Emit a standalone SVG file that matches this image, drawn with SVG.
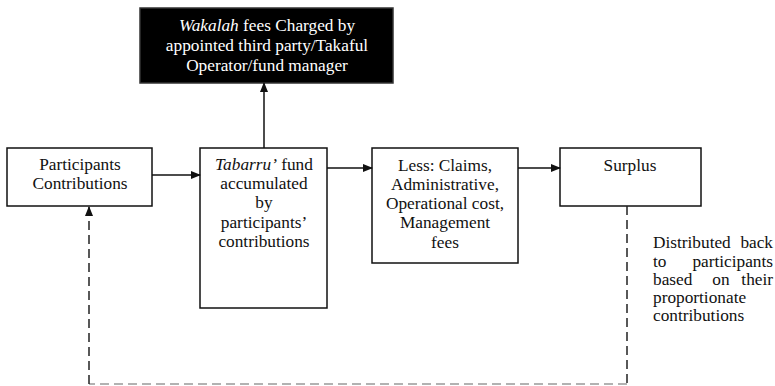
<svg xmlns="http://www.w3.org/2000/svg" width="775" height="386" viewBox="0 0 775 386" font-family="'Liberation Serif', 'DejaVu Serif', 'Times New Roman', serif">
<style>
.box{fill:#fff;stroke:#111;stroke-width:1.5}
.dark{fill:#000;stroke:#333;stroke-width:1.5}
.t{font-family:'Liberation Serif','DejaVu Serif',serif;font-size:17.3px;fill:#111}
.c{text-anchor:middle}
.w{fill:#fff}
.e{text-anchor:end}
.edge{stroke:#111;stroke-width:1.5;fill:none}
.dash{stroke:#222;stroke-width:1.5;fill:none;stroke-dasharray:9 5}
.dashg{stroke:#999;stroke-width:1.5;fill:none;stroke-dasharray:9 5}
</style>
<defs>
<marker id="ah" markerWidth="10" markerHeight="8" refX="9" refY="4" orient="auto" markerUnits="userSpaceOnUse">
<path d="M0,0 L10,4 L0,8 Z" fill="#111"/>
</marker>
</defs>
<g id="wakalah">
<rect class="dark" x="140" y="8" width="253" height="75"/>
<text class="t c w" x="267" y="31"><tspan font-style="italic">Wakalah</tspan> fees Charged by</text>
<text class="t c w" x="267" y="51">appointed third party/Takaful</text>
<text class="t c w" x="267" y="71">Operator/fund manager</text>
</g>
<g id="participants">
<rect class="box" x="7" y="148" width="145" height="58"/>
<text class="t c" x="80" y="170">Participants</text>
<text class="t c" x="80" y="189">Contributions</text>
</g>
<g id="tabarru">
<rect class="box" x="200" y="148" width="127" height="160"/>
<text class="t c" x="264" y="170"><tspan font-style="italic">Tabarru’</tspan> fund</text>
<text class="t c" x="264" y="189">accumulated</text>
<text class="t c" x="264" y="208">by</text>
<text class="t c" x="264" y="228">participants’</text>
<text class="t c" x="264" y="247">contributions</text>
</g>
<g id="less">
<rect class="box" x="372" y="148" width="146" height="115"/>
<text class="t c" x="445" y="171">Less: Claims,</text>
<text class="t c" x="445" y="190">Administrative,</text>
<text class="t c" x="445" y="209">Operational cost,</text>
<text class="t c" x="445" y="228">Management</text>
<text class="t c" x="445" y="248">fees</text>
</g>
<g id="surplus">
<rect class="box" x="560" y="148" width="141" height="58"/>
<text class="t c" x="630" y="171">Surplus</text>
</g>
<g id="distributed-label">
<text class="t" x="653" y="248">Distributed</text><text class="t e" x="773" y="248">back</text>
<text class="t" x="653" y="267">to</text><text class="t e" x="773" y="267">participants</text>
<text class="t" x="653" y="285">based</text><text class="t c" x="721" y="285">on</text><text class="t e" x="773" y="285">their</text>
<text class="t" x="653" y="303">proportionate</text>
<text class="t" x="653" y="321">contributions</text>
</g>
<g id="connectors">
<line class="edge" x1="152" y1="175" x2="200" y2="175" marker-end="url(#ah)"/>
<line class="edge" x1="327" y1="168" x2="372" y2="168" marker-end="url(#ah)"/>
<line class="edge" x1="518" y1="168" x2="560" y2="168" marker-end="url(#ah)"/>
<line class="edge" x1="264" y1="148" x2="264" y2="83" marker-end="url(#ah)"/>
<line class="dash" x1="627" y1="206" x2="627" y2="384"/>
<line class="dashg" x1="627" y1="384" x2="89" y2="384"/>
<line class="dash" x1="89" y1="384" x2="89" y2="207" marker-end="url(#ah)"/>
</g>
</svg>
